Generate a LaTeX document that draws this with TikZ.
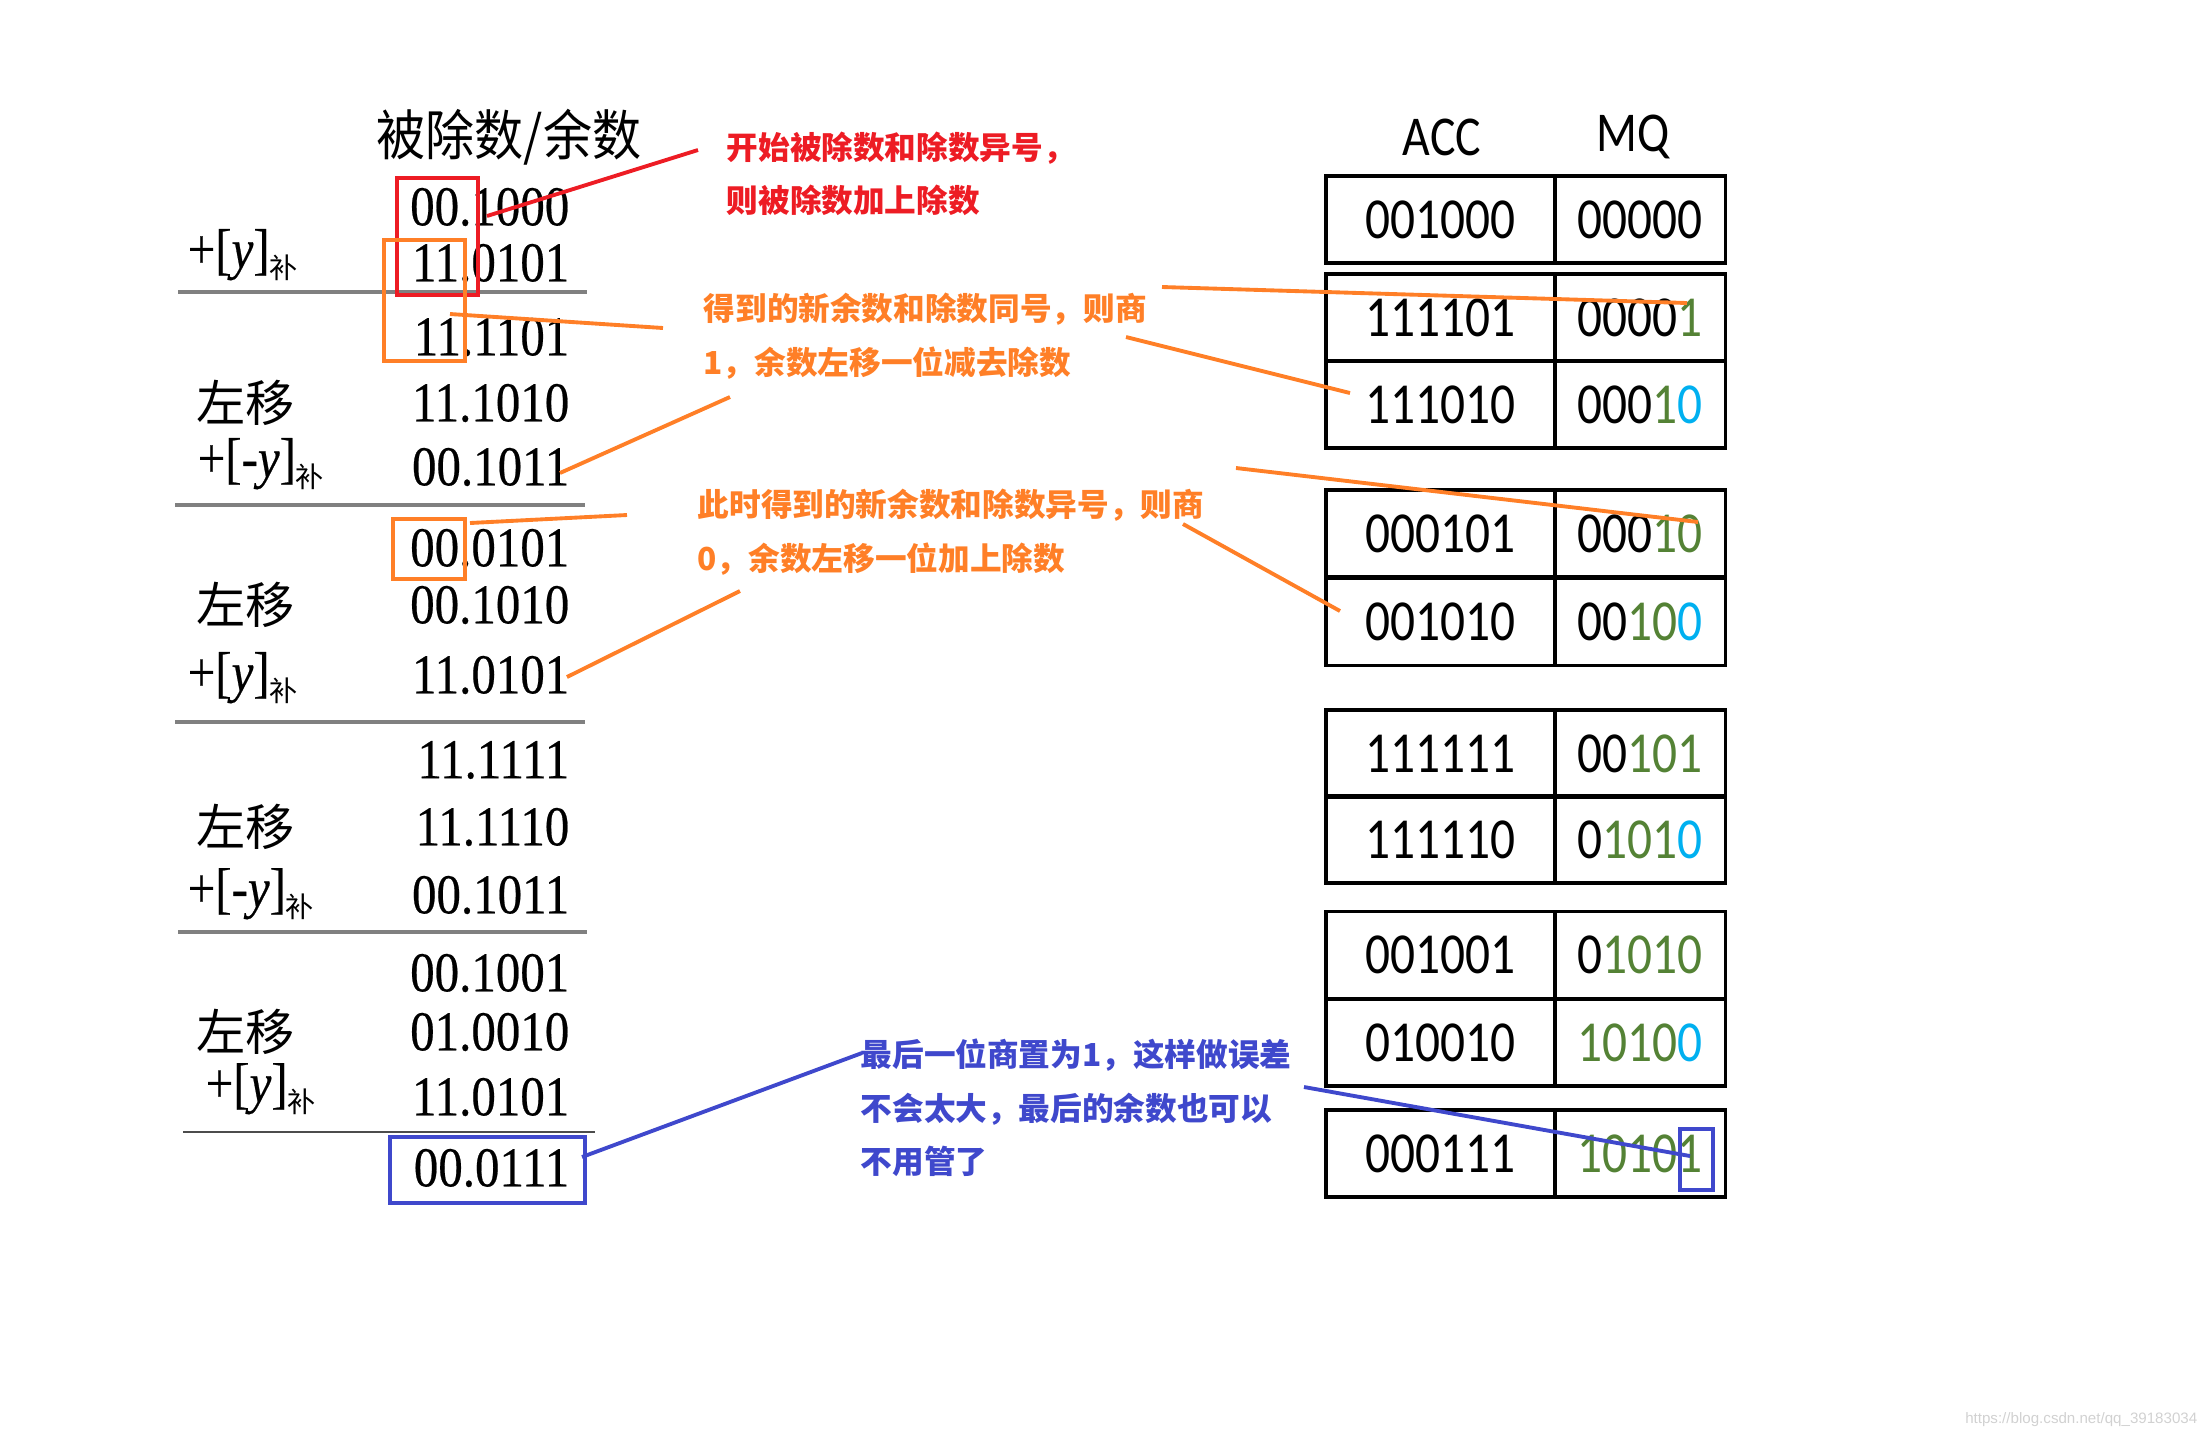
\documentclass[tikz,border=0pt]{standalone}
\usepackage{fontspec}
\setmainfont{Liberation Serif}
\newfontfamily\cjk{Noto Sans CJK SC}
\newfontfamily\cjknarrow[FakeStretch=0.9]{Noto Sans CJK SC}
\newfontfamily\numfont[FakeStretch=0.87,FakeBold=0.4]{Liberation Serif}
\newfontfamily\tabfont[FakeStretch=0.85]{Carlito}
\newfontfamily\urlfont{Liberation Sans}
\usetikzlibrary{positioning}

\definecolor{notered}{RGB}{237,28,36}
\definecolor{noteorange}{RGB}{255,127,39}
\definecolor{noteblue}{RGB}{63,72,204}
\definecolor{bitgreen}{RGB}{84,130,53}
\definecolor{bitblue}{RGB}{0,176,240}
\definecolor{rulegray}{RGB}{128,128,128}

% coloured quotient bits in MQ
\newcommand{\qg}[1]{\textcolor{bitgreen}{#1}}
\newcommand{\qb}[1]{\textcolor{bitblue}{#1}}
% +[..] with the small 补
\newcommand{\comp}[1]{{\numfont +[#1]}\raisebox{-3pt}{\cjk\fontsize{8}{8}\selectfont 补}}

\tikzset{
  numtext/.style={inner sep=0pt, anchor=east, font=\numfont\fontsize{16}{16}\selectfont},
  optext/.style={inner sep=0pt, anchor=west, font=\cjk\fontsize{14}{14}\selectfont},
  comptext/.style={inner sep=0pt, anchor=west, font=\numfont\fontsize{16}{16}\selectfont},
  tabhead/.style={inner sep=0pt, font=\tabfont\fontsize{16}{16}\selectfont},
  acccell/.style={draw, line width=0.9pt, inner sep=0pt, outer sep=0pt, minimum width=2.29cm, minimum height=0.87cm, font=\tabfont\fontsize{16.5}{16.5}\selectfont},
  mqcell/.style={acccell, minimum width=1.70cm},
  note/.style={inner sep=0pt, anchor=west, align=left, font=\cjk\bfseries\fontsize{9}{15.2}\selectfont},
  redline/.style={notered, line width=1.1pt},
  orangeline/.style={noteorange, line width=1.1pt},
  blueline/.style={noteblue, line width=1.1pt}
}

\begin{document}
\begin{tikzpicture}[x=0.01cm, y=-0.01cm]
\useasboundingbox (0,0) rectangle (2208,1438);

% Left column: heading
\node[optext, font=\cjknarrow\fontsize{15.5}{15.5}\selectfont] (remhead) at (376,137) {被除数/余数};

% Dividend / remainder values
\foreach \y/\val [count=\i] in {207/00.1000, 263/11.0101, 337/11.1101, 403/11.1010, 467/00.1011,
  548/00.0101, 605/00.1010, 675/11.0101, 760/11.1111, 827/11.1110, 895/00.1011,
  973/00.1001, 1032/01.0010, 1097/11.0101, 1168/00.0111}
  \node[numtext] (rem\i) at (570,\y) {\val};

% Operations
\foreach \y in {403,605,827,1032}
  \node[optext] (shift\y) at (196,\y) {左移};
\node[comptext] (addy1) at (187,255) {\comp{\textit{y}}};
\node[comptext] (suby1) at (197,464) {\comp{-\textit{y}}};
\node[comptext] (addy2) at (187,678) {\comp{\textit{y}}};
\node[comptext] (suby2) at (187,894) {\comp{-\textit{y}}};
\node[comptext] (addy3) at (205,1089) {\comp{\textit{y}}};

% Sum lines
\foreach \y/\xa/\xb in {292/178/587, 505/175/585, 932/178/587}
  \draw[rulegray, line width=0.9pt] (\xa,\y) -- (\xb,\y);
\draw[rulegray, line width=1.4pt] (175,722) -- (585,722);
\draw[black!70, line width=0.6pt] (183,1132) -- (595,1132);

% Highlight boxes
\node[draw=notered, line width=1.1pt, inner sep=0pt, minimum width=0.81cm, minimum height=1.17cm] (redbox) at (437.5,236.5) {};
\node[draw=noteorange, line width=1.1pt, inner sep=0pt, minimum width=0.81cm, minimum height=1.21cm] (orbox1) at (424.5,300.5) {};
\node[draw=noteorange, line width=1.1pt, inner sep=0pt, minimum width=0.72cm, minimum height=0.60cm] (orbox2) at (429,549) {};
\node[draw=noteblue, line width=1.1pt, inner sep=0pt, minimum width=1.95cm, minimum height=0.66cm] (bluebox1) at (487.5,1170) {};

% Notes
\node[note, text=notered] (note1) at (726,174) {开始被除数和除数异号，\\则被除数加上除数};
\node[note, text=noteorange] (note2) at (703,336) {得到的新余数和除数同号，则商\\1，余数左移一位减去除数};
\node[note, text=noteorange] (note3) at (697,532) {此时得到的新余数和除数异号，则商\\0，余数左移一位加上除数};
\node[note, text=noteblue] (note4) at (860,1108) {最后一位商置为1，这样做误差\\不会太大，最后的余数也可以\\不用管了};

% Right: ACC / MQ registers
\node[tabhead] (acchead) at (1442,137) {ACC};
\node[tabhead] (mqhead) at (1633,137) {MQ};
\foreach \i/\y/\acc/\mq in {
1/219.5/001000/00000,
2/317.5/111101/0000\qg{1},
3/404.5/111010/000\qg{1}\qb{0},
4/533.5/000101/000\qg{10},
5/622/001010/00\qg{10}\qb{0},
6/753.5/111111/00\qg{101},
7/839.5/111110/0\qg{101}\qb{0},
8/955/001001/0\qg{1010},
9/1042.5/010010/\qg{1010}\qb{0},
10/1153.5/000111/\qg{10101}}
{
  \node[acccell] (acc\i) at (1440.5,\y) {\acc};
  \node[mqcell, right=0pt of acc\i] (mq\i) {\mq};
}
\node[draw=noteblue, line width=1.1pt, inner sep=0pt, minimum width=0.33cm, minimum height=0.61cm] (bluebox2) at (1696.5,1159.5) {};

% Connector ends
\coordinate (r1) at (487,216);   \coordinate (r2) at (698,150);
\coordinate (oa1) at (450,314);  \coordinate (oa2) at (663,328);
\coordinate (ob1) at (560,473);  \coordinate (ob2) at (730,397);
\coordinate (oc1) at (470,523);  \coordinate (oc2) at (627,515);
\coordinate (od1) at (567,677);  \coordinate (od2) at (740,591);
\coordinate (oe1) at (1162,287); \coordinate (oe2) at (1687,303);
\coordinate (of1) at (1126,337); \coordinate (of2) at (1350,393);
\coordinate (og1) at (1236,468); \coordinate (og2) at (1698,522);
\coordinate (oh1) at (1183,524); \coordinate (oh2) at (1340,611);
\coordinate (b1) at (582,1157);  \coordinate (b2) at (862,1053);
\coordinate (b3) at (1304,1087); \coordinate (b4) at (1690,1156);

% Connectors
\draw[redline] (r1) -- (r2);
\foreach \a/\b in {oa1/oa2, ob1/ob2, oc1/oc2, od1/od2, oe1/oe2, of1/of2, og1/og2, oh1/oh2}
  \draw[orangeline] (\a) -- (\b);
\draw[blueline] (b1) -- (b2);
\draw[blueline] (b3) -- (b4);

% Watermark
\node[anchor=east, inner sep=0pt, text=black!18, font=\urlfont\fontsize{4.3}{5}\selectfont] (wmark) at (2198,1420) {https://blog.csdn.net/qq\_39183034};

\end{tikzpicture}
\end{document}
